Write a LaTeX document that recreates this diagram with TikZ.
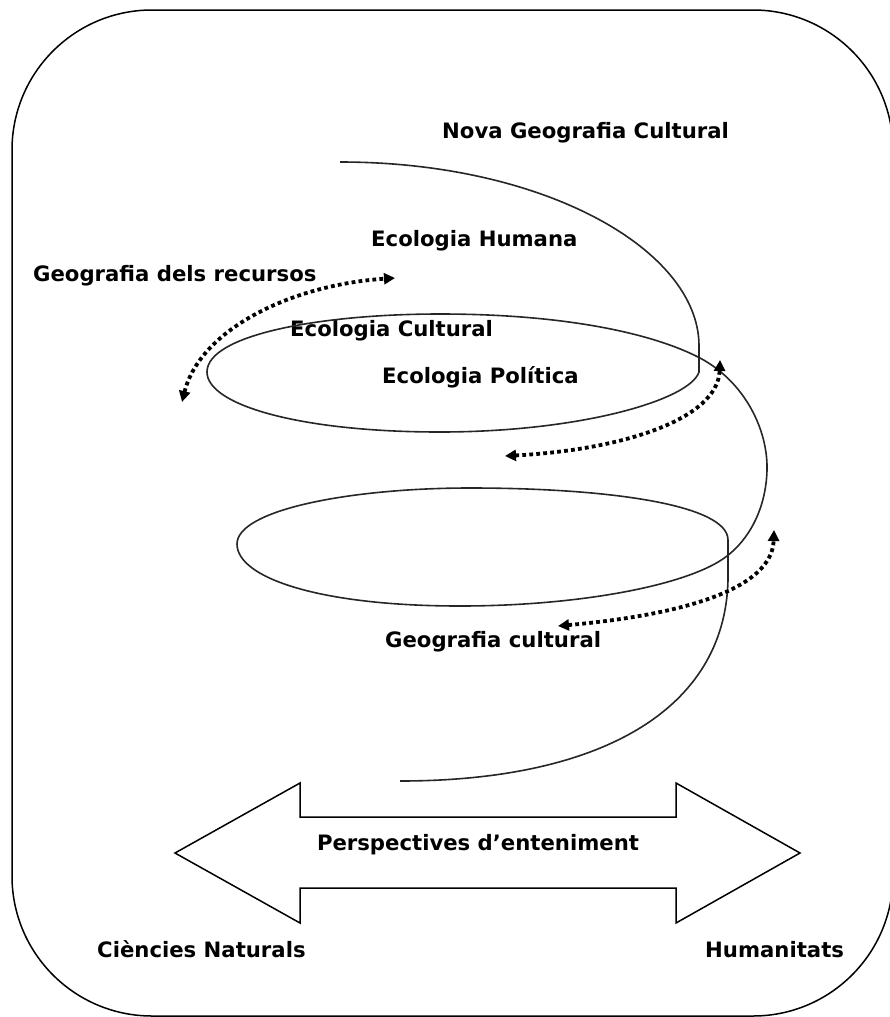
\documentclass[tikz,border=0pt]{standalone}
\usepackage{fontspec}
\setmainfont{DejaVu Sans}
\usetikzlibrary{arrows.meta}

\begin{document}
\begin{tikzpicture}[x=1pt,y=-1pt,
  lab/.style={anchor=base west,inner sep=0pt,font=\fontsize{21.2}{25}\selectfont\bfseries},
  flow/.style={line width=3.8pt,dash pattern=on 3.8pt off 3.2pt,
    {Triangle[length=11pt,width=11pt]}-{Triangle[length=11pt,width=11pt]}},
  spiral/.style={line width=1.6pt,black!85}]
  \useasboundingbox (0,0) rectangle (890,1017);
  \draw[line width=1.5pt,rounded corners=140pt] (12,10) rectangle (893,1016);

  \node[lab] (N) at (442,138) {Nova Geografia Cultural};
  \node[lab] (H) at (371,246) {Ecologia Humana};
  \node[lab] (R) at (33,281) {Geografia dels recursos};
  \node[lab] (C) at (290,336) {Ecologia Cultural};
  \node[lab] (P) at (382,383) {Ecologia Política};
  \node[lab] (G) at (385,647) {Geografia cultural};
  \node[lab] (CN) at (97,957) {Ciències Naturals};
  \node[lab] (HU) at (705,957) {Humanitats};

  % spiral
  \draw[spiral] (340,162) .. controls (545,162) and (698,250) .. (699,345)
    -- (699,372) .. controls (690,400) and (580,432) .. (440,432)
    .. controls (300,432) and (207,405) .. (207,372)
    .. controls (207,335) and (320,314) .. (440,314)
    .. controls (560,314) and (650,332) .. (700,358)
    .. controls (745,382) and (768,430) .. (767,470)
    .. controls (766,510) and (748,540) .. (727,556)
    .. controls (690,585) and (580,606) .. (460,606)
    .. controls (320,606) and (237,578) .. (237,544)
    .. controls (237,510) and (350,488) .. (470,488)
    .. controls (610,488) and (728,505) .. (728,540)
    -- (728,580) .. controls (725,710) and (600,781) .. (400,781);

  \coordinate (r1) at (182,402);
  \coordinate (r2) at (395,278);
  \coordinate (p1) at (505,456);
  \coordinate (p2) at (720,360);
  \coordinate (g1) at (558,626);
  \coordinate (g2) at (774,530);
  \draw[flow] (r1) .. controls (200,330) and (290,285) .. (r2);
  \draw[flow] (p1) .. controls (620,450) and (718,420) .. (p2);
  \draw[flow] (g1) .. controls (680,615) and (772,590) .. (g2);

  % double arrow
  \draw[line width=1.5pt] (175,853) -- (300,783) -- (300,817) -- (676,817) -- (676,783)
    -- (800,853) -- (676,923) -- (676,888) -- (300,888) -- (300,923) -- cycle;
  \node[anchor=base,inner sep=0pt,font=\fontsize{21.2}{25}\selectfont\bfseries] (E) at (478,850) {Perspectives d’enteniment};
\end{tikzpicture}
\end{document}
